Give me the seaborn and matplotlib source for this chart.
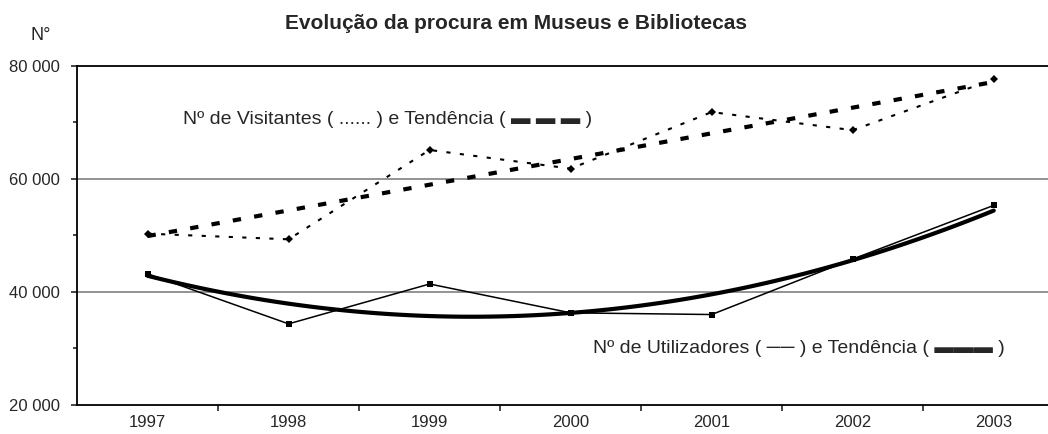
import numpy as np
import pandas as pd
import matplotlib
matplotlib.use('Agg')
import matplotlib.pyplot as plt
import seaborn as sns
from matplotlib.ticker import FuncFormatter, MultipleLocator

# data
years = [1997, 1998, 1999, 2000, 2001, 2002, 2003]
visitantes = [50300, 49300, 65100, 61800, 71800, 68600, 77600]
utilizadores = [43200, 34350, 41400, 36300, 36000, 45800, 55300]

title = 'Evolução da procura em Museus e Bibliotecas'
ylabel = 'N°'
txt_visit = 'Nº de Visitantes ( ...... ) e Tendência ( ▬ ▬ ▬ )'
txt_util = 'Nº de Utilizadores ( ── ) e Tendência ( ▬▬▬ )'

df = pd.DataFrame({'ano': years, 'visitantes': visitantes, 'utilizadores': utilizadores})

sns.set_style('white')
plt.rcParams['font.family'] = ['Liberation Sans', 'DejaVu Sans']

fig = plt.figure(figsize=(10.48, 4.34), dpi=100)
ax = fig.add_axes([0.0735, 0.0668, 0.942, 0.7818])

# grid lines
for v in (40000, 60000):
    ax.axhline(v, color='#808080', lw=1.2, zorder=0)

# visitors: dotted data + dashed linear trend
sns.lineplot(data=df, x='ano', y='visitantes', ax=ax, color='black', lw=1.5,
             linestyle=(0, (2, 4.5)), marker='D', markersize=4, markeredgewidth=0)
sns.regplot(data=df, x='ano', y='visitantes', ax=ax, order=1, ci=None, scatter=False,
            truncate=True, line_kws=dict(color='black', lw=3, linestyle=(0, (2, 3.2))))

# users: thin solid data + thick polynomial trend
sns.lineplot(data=df, x='ano', y='utilizadores', ax=ax, color='black', lw=1.1,
             marker='s', markersize=4, markeredgewidth=0)
sns.regplot(data=df, x='ano', y='utilizadores', ax=ax, order=2, ci=None, scatter=False,
            truncate=True, line_kws=dict(color='black', lw=3))

ax.set_xlim(1996.5, 2003.5)
ax.set_ylim(20000, 80000)
ax.set_xticks(years)
ax.set_xticklabels([str(y) for y in years])
ax.set_xticks([y + 0.5 for y in years], minor=True)
ax.set_yticks([20000, 40000, 60000, 80000])
ax.yaxis.set_minor_locator(MultipleLocator(10000))
ax.yaxis.set_major_formatter(FuncFormatter(lambda v, p: f'{v:,.0f}'.replace(',', ' ')))
ax.set_xlabel('')
ax.set_ylabel('')

ax.tick_params(axis='x', which='major', length=0, pad=7, labelsize=12)
ax.tick_params(axis='x', which='minor', direction='out', length=4, width=1.2, bottom=True)
ax.tick_params(axis='y', which='major', direction='out', length=4, width=1.2, pad=8,
               labelsize=12, left=True)
ax.tick_params(axis='y', which='minor', direction='out', length=3, width=1.2, left=True)

for s in ['left', 'bottom', 'top']:
    ax.spines[s].set_color('black')
    ax.spines[s].set_linewidth(1.3)
ax.spines['right'].set_visible(False)

ax.text(1997.25, 70400, txt_visit, fontsize=14, va='center', ha='left')
ax.text(2000.16, 30000, txt_util, fontsize=14, va='center', ha='left')

fig.text(0.492, 0.947, title, fontsize=15, fontweight='bold', ha='center', va='center')
fig.text(0.039, 0.919, ylabel, fontsize=13, ha='center', va='center')

fig.savefig('out.png', dpi=100)
